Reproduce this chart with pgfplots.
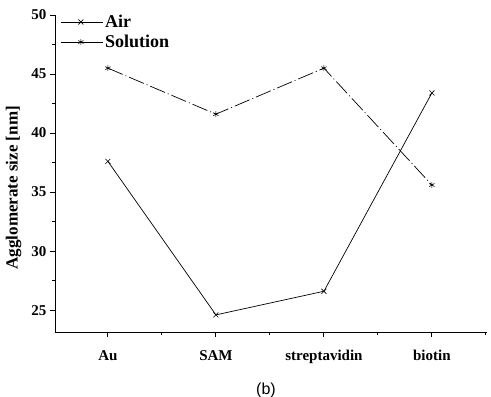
\documentclass[border=0pt]{standalone}
\usepackage{pgfplots}
\pgfplotsset{compat=1.18}
\usepackage{fontspec}
\setmainfont{Liberation Serif}
\newfontfamily\arialfont{Liberation Sans}
\begin{document}
\begin{tikzpicture}
\path[use as bounding box] (-55pt,-65pt) rectangle (436pt,332pt);
\begin{axis}[
  at={(0,0)}, anchor=south west,
  scale only axis, width=432pt, height=317pt,
  xmin=-0.49, xmax=3.51, ymin=23.15, ymax=50,
  axis x line*=bottom, axis y line*=left,
  axis line style={line width=0.9pt, -},
  xtick={0,1,2,3}, xticklabels={Au,SAM,streptavidin,biotin},
  minor xtick={-0.5,0.5,1.5,2.5,3.5},
  ytick={25,30,35,40,45,50},
  minor ytick={27.5,32.5,37.5,42.5,47.5},
  tick align=outside,
  major tick length=5pt, minor tick length=3pt,
  tick style={black, line width=0.9pt},
  ticklabel style={font=\fontsize{15}{17}\selectfont\bfseries},
  xticklabel style={yshift=-10pt},
  /pgf/number format/assume math mode=true,
  ylabel={Agglomerate size [nm]},
  ylabel style={font=\fontsize{17}{19}\selectfont\bfseries, at={(axis description cs:-0.096,0.455)}, anchor=center},
  legend style={draw=none, fill=none, at={(0.01,1.01)}, anchor=north west,
    font=\fontsize{18}{20}\selectfont\bfseries, row sep=2pt, inner sep=1pt},
  legend cell align=left,
  legend image code/.code={\draw[#1, no markers] (0pt,0pt) -- (42pt,0pt);
    \draw[#1, only marks] plot coordinates {(20pt,0pt)};},
]
\addlegendimage{black, line width=0.7pt, mark=x, mark size=3.5pt, mark options={line width=0.6pt}}
\addlegendentry{Air}
\addlegendimage{black, line width=0.7pt, mark=asterisk, mark size=3pt, mark options={line width=0.6pt}}
\addlegendentry{Solution}
\addplot[black, line width=0.7pt, mark=x, mark size=3.5pt, mark options={line width=0.6pt}, forget plot]
  coordinates {(0,37.6) (1,24.6) (2,26.6) (3,43.4)};
\addplot[black, line width=0.7pt, dash pattern=on 16pt off 3pt on 1pt off 3pt, mark=asterisk, mark size=3pt, mark options={solid, line width=0.6pt}, forget plot]
  coordinates {(0,45.5) (1,41.6) (2,45.5) (3,35.6)};
\end{axis}
\node[font=\arialfont\fontsize{16}{18}\selectfont] at (211pt,-58pt) {(b)};
\end{tikzpicture}
\end{document}
